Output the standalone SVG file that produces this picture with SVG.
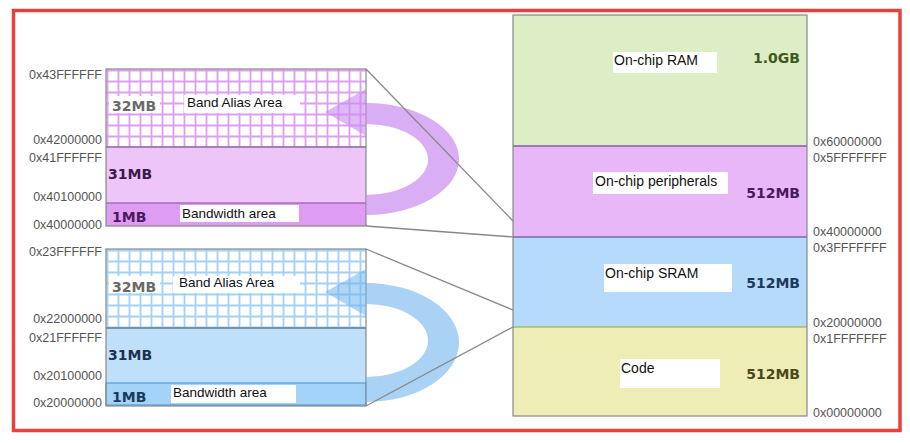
<svg xmlns="http://www.w3.org/2000/svg" width="910" height="443" viewBox="0 0 910 443">
<defs>
<style>
.addr{font-family:"Liberation Sans",Arial,sans-serif;font-size:12.5px;fill:#555}
.lbl{font-family:"Liberation Sans",Arial,sans-serif;font-size:13.5px;fill:#111}
.rlbl{font-family:"Liberation Sans",Arial,sans-serif;font-size:14px;fill:#111}
.size{font-family:"DejaVu Sans",Verdana,sans-serif;font-size:14px;font-weight:bold}
.box{fill:#fff}
.edge{fill:none;stroke:#888;stroke-width:1.2}
.conn{fill:none;stroke:#888;stroke-width:1.3}
</style>
<pattern id="gridP" patternUnits="userSpaceOnUse" x="106" y="69" width="11" height="11">
<rect width="11" height="11" fill="#fff"/>
<path d="M1.5 0V11M0 1.5H11" stroke="#de9ff3" stroke-width="1.8"/>
</pattern>
<pattern id="gridB" patternUnits="userSpaceOnUse" x="106" y="249" width="11" height="11">
<rect width="11" height="11" fill="#fff"/>
<path d="M1.5 0V11M0 1.5H11" stroke="#a3d1f8" stroke-width="1.8"/>
</pattern>
</defs>
<rect x="0" y="0" width="910" height="443" fill="#fff"/>
<rect x="13.5" y="10.5" width="886.5" height="420" fill="none" stroke="#e8403a" stroke-width="3.5"/>

<g id="map-column">
<rect x="513" y="15" width="294" height="131" fill="#ddedc5"/>
<rect x="513" y="146" width="294" height="91" fill="#e7b7f7"/>
<rect x="513" y="237" width="294" height="90" fill="#b6dbfa"/>
<rect x="513" y="327" width="294" height="89" fill="#efedb6"/>
<line x1="513" y1="146" x2="807" y2="146" stroke="#8a5aa8" stroke-width="1.5"/>
<line x1="513" y1="237" x2="807" y2="237" stroke="#7a6aa8" stroke-width="1.5"/>
<line x1="513" y1="327" x2="807" y2="327" stroke="#a8b870" stroke-width="1.5"/>
<rect x="513" y="15" width="294" height="401" class="edge"/>
</g>

<g id="ram">
<rect class="box" x="613" y="52" width="104" height="21"/>
<text class="rlbl" x="614" y="65">On-chip RAM</text>
<text class="size" x="800" y="63" text-anchor="end" fill="#3d5a1e">1.0GB</text>
</g>
<g id="peripherals">
<rect class="box" x="593" y="172" width="135" height="22"/>
<text class="rlbl" x="595" y="186">On-chip peripherals</text>
<text class="size" x="800" y="198" text-anchor="end" fill="#4a1a5c">512MB</text>
</g>
<g id="sram">
<rect class="box" x="604" y="264" width="128" height="28"/>
<text class="rlbl" x="605" y="278">On-chip SRAM</text>
<text class="size" x="800" y="288" text-anchor="end" fill="#1c3a5c">512MB</text>
</g>
<g id="code">
<rect class="box" x="620" y="359" width="100" height="29"/>
<text class="rlbl" x="621" y="373">Code</text>
<text class="size" x="800" y="379" text-anchor="end" fill="#4a4a1c">512MB</text>
</g>

<g id="right-addresses">
<text class="addr" x="813" y="146">0x60000000</text>
<text class="addr" x="813" y="162">0x5FFFFFFF</text>
<text class="addr" x="813" y="236">0x40000000</text>
<text class="addr" x="813" y="252">0x3FFFFFFF</text>
<text class="addr" x="813" y="327">0x20000000</text>
<text class="addr" x="813" y="343">0x1FFFFFFF</text>
<text class="addr" x="813" y="417">0x00000000</text>
</g>

<g id="periph-block">
<rect x="106" y="69" width="260" height="78" fill="url(#gridP)"/>
<rect x="106" y="147" width="260" height="56" fill="#eec5f9"/>
<rect x="106" y="203" width="260" height="23" fill="#df9cf3"/>
<line x1="106" y1="147" x2="366" y2="147" stroke="#8a6a9a" stroke-width="1.3"/>
<line x1="106" y1="203" x2="366" y2="203" stroke="#a070b8" stroke-width="1.6"/>
<rect x="106" y="69" width="260" height="157" class="edge"/>
<rect class="box" x="109" y="96" width="51" height="17"/>
<text class="size" x="112" y="111" fill="#6a6a6a">32MB</text>
<rect class="box" x="184" y="95" width="116" height="18"/>
<text class="lbl" x="187" y="107">Band Alias Area</text>
<text class="size" x="108" y="179" fill="#3a1a4c">31MB</text>
<text class="size" x="112" y="222" fill="#4a1a5c">1MB</text>
<rect class="box" x="180" y="205" width="119" height="17"/>
<text class="lbl" x="182" y="218">Bandwidth area</text>
</g>
<g id="periph-addresses">
<text class="addr" x="102" y="79" text-anchor="end">0x43FFFFFF</text>
<text class="addr" x="102" y="144" text-anchor="end">0x42000000</text>
<text class="addr" x="102" y="162" text-anchor="end">0x41FFFFFF</text>
<text class="addr" x="102" y="201" text-anchor="end">0x40100000</text>
<text class="addr" x="102" y="229" text-anchor="end">0x40000000</text>
</g>

<g id="sram-block">
<rect x="106" y="249" width="260" height="79" fill="url(#gridB)"/>
<rect x="106" y="328" width="260" height="55" fill="#bfe0fb"/>
<rect x="106" y="383" width="260" height="23" fill="#a3d3f8"/>
<line x1="106" y1="328" x2="366" y2="328" stroke="#6a7a8a" stroke-width="1.3"/>
<rect x="106" y="383" width="260" height="22" fill="none" stroke="#5a9ad8" stroke-width="1.2"/>
<rect x="106" y="249" width="260" height="157" class="edge"/>
<rect class="box" x="109" y="276" width="51" height="17"/>
<text class="size" x="112" y="292" fill="#6a6a6a">32MB</text>
<rect class="box" x="173" y="276" width="127" height="17"/>
<text class="lbl" x="179" y="287">Band Alias Area</text>
<text class="size" x="108" y="360" fill="#1c3050">31MB</text>
<rect class="box" x="171" y="385" width="125" height="18"/>
<text class="lbl" x="173" y="397">Bandwidth area</text>
<text class="size" x="112" y="402" fill="#1c3a5c">1MB</text>
</g>
<g id="sram-addresses">
<text class="addr" x="102" y="256" text-anchor="end">0x23FFFFFF</text>
<text class="addr" x="102" y="323" text-anchor="end">0x22000000</text>
<text class="addr" x="102" y="342" text-anchor="end">0x21FFFFFF</text>
<text class="addr" x="102" y="380" text-anchor="end">0x20100000</text>
<text class="addr" x="102" y="407" text-anchor="end">0x20000000</text>
</g>

<g id="alias-arrows">
<path d="M366 103A93 56 0 0 1 366 215L366 195A62 35.5 0 0 0 366 124Z" fill="#c98bef" fill-opacity="0.7"/>
<polygon points="366,89 325,112 366,136" fill="#c98bef" fill-opacity="0.6"/>
<path d="M366 283A93 59.5 0 0 1 366 402L366 377A62 36.5 0 0 0 366 304Z" fill="#6fb4ee" fill-opacity="0.6"/>
<polygon points="366,269 325,292 366,316" fill="#6fb4ee" fill-opacity="0.55"/>
</g>

<g id="connectors">
<line class="conn" x1="366" y1="69" x2="513" y2="221"/>
<line class="conn" x1="366" y1="226" x2="513" y2="237"/>
<line class="conn" x1="366" y1="249" x2="513" y2="310"/>
<line class="conn" x1="366" y1="406" x2="513" y2="327"/>
</g>
</svg>
